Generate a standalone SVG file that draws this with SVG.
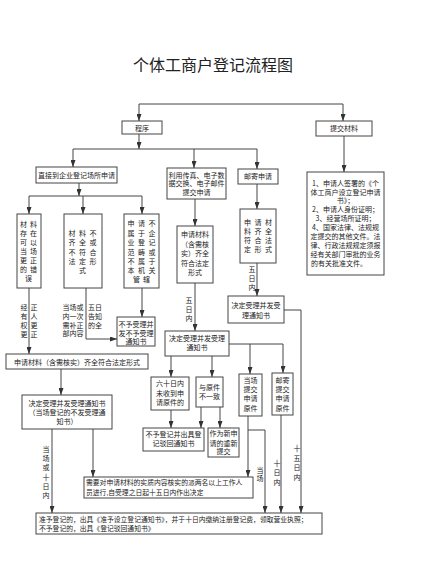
<svg xmlns="http://www.w3.org/2000/svg" width="421" height="569" viewBox="0 0 421 569">
<defs>
<marker id="ah" viewBox="0 0 7 5" refX="7" refY="2.5" markerWidth="7" markerHeight="5" markerUnits="userSpaceOnUse" orient="auto">
<path d="M0,0 L7,2.5 L0,5 z" fill="#333"/>
</marker>
<style>
text{font-family:"Noto Sans CJK SC","Noto Sans",sans-serif;fill:#222;font-size:7px;text-anchor:middle}
.t{font-size:16px}
.l{text-anchor:start}
rect{fill:#fff;stroke:#444;stroke-width:1}
.c path{fill:none;stroke:#444;stroke-width:1}
.a{marker-end:url(#ah)}
</style>
</defs>
<rect x="0" y="0" width="421" height="569" style="stroke:none"/>
<text class="t" x="213" y="71">个体工商户登记流程图</text>

<g class="c" id="connectors">
<path d="M139,104 H343"/>
<path class="a" d="M139,104 V121"/>
<path class="a" d="M343,104 V121"/>
<path class="a" d="M139,134 V149"/>
<path d="M73,149 H257"/>
<path class="a" d="M73,149 V167"/>
<path class="a" d="M194,149 V168"/>
<path class="a" d="M257,149 V169"/>
<path class="a" d="M344,136 V172"/>
<path class="a" d="M79,183 V196"/>
<path d="M29,196 H142"/>
<path class="a" d="M29,196 V214"/>
<path class="a" d="M83,196 V214"/>
<path class="a" d="M142,196 V214"/>
<path class="a" d="M29,288 V354"/>
<path class="a" d="M86,288 V339 H117"/>
<path class="a" d="M142,288 V317"/>
<path class="a" d="M61,369 V395"/>
<path class="a" d="M52,429 V513"/>
<path class="a" d="M93,429 V477"/>
<path class="a" d="M195,199 V226"/>
<path class="a" d="M195,283 V331"/>
<path class="a" d="M171,356 V377"/>
<path class="a" d="M212,356 V377"/>
<path d="M229,344 H283"/>
<path class="a" d="M250,344 V374"/>
<path class="a" d="M283,344 V373"/>
<path class="a" d="M171,410 V428"/>
<path class="a" d="M201,407 V428"/>
<path class="a" d="M220,407 V428"/>
<path class="a" d="M248,416 V477"/>
<path class="a" d="M248,430 H265 V513"/>
<path class="a" d="M281,415 V513"/>
<path class="a" d="M257,184 V209"/>
<path class="a" d="M257,263 V296"/>
<path class="a" d="M284,310 H301 V513"/>
</g>

<g id="n-chengxu"><rect x="122" y="121" width="40" height="13"/><text x="142" y="130.5">程序</text></g>
<g id="n-tijiao"><rect x="316" y="121" width="56" height="15"/><text x="344" y="131">提交材料</text></g>
<g id="n-zhijie"><rect x="36" y="167" width="81" height="16"/><text x="76.5" y="177.5">直接到企业登记场所申请</text></g>
<g id="n-liyong"><rect x="167" y="168" width="59" height="31"/>
<text x="196.5" y="177.5">利用传真、电子数</text><text x="196.5" y="186">据交换、电子邮件</text><text x="196.5" y="194.5">提交申请</text></g>
<g id="n-youji"><rect x="238" y="169" width="40" height="15"/><text x="258" y="179">邮寄申请</text></g>
<g id="n-cailiao"><rect x="307" y="172" width="77" height="103"/>
<text x="345.5" y="185.5">1、申请人签署的《个</text>
<text x="345.5" y="194.5">体工商户设立登记申请</text>
<text x="345.5" y="203">书》；</text>
<text x="345.5" y="212">2、申请人身份证明；</text>
<text x="345.5" y="221">3、经营场所证明；</text>
<text x="345.5" y="230">4、国家法律、法规规</text>
<text x="345.5" y="239">定提交的其他文件。法</text>
<text x="345.5" y="248">律、行政法规规定须报</text>
<text x="345.5" y="257">经有关部门审批的业务</text>
<text class="l" x="311" y="266">的有关批准文件。</text></g>

<g id="n-boxA"><rect x="17" y="214" width="24" height="74"/>
<text x="23.5 33.5" y="226.5">材料</text><text x="23.5 33.5" y="235.5">存在</text><text x="23.5 33.5" y="244.5">可以</text><text x="23.5 33.5" y="253.5">当场</text><text x="23.5 33.5" y="262.5">更正</text><text x="23.5 33.5" y="271.5">的错</text><text x="28.5" y="280.5">误</text></g>
<g id="n-boxB"><rect x="64" y="214" width="38" height="74"/>
<text x="72 82.5 93" y="235.5">材料不</text><text x="72 82.5 93" y="245">齐全或</text><text x="72 82.5 93" y="254.5">不符合</text><text x="72 82.5 93" y="264">法定形</text><text x="82.5" y="273">式</text></g>
<g id="n-boxC"><rect x="124" y="214" width="35" height="74"/>
<text x="131 141.5 152" y="226">申请不</text><text x="131 141.5 152" y="235.5">属于企</text><text x="131 141.5 152" y="245">业登记</text><text x="131 141.5 152" y="254.5">范畴或</text><text x="131 141.5 152" y="264">不属于</text><text x="131 141.5 152" y="273">本机关</text><text x="136.5 146.5" y="282">管辖</text></g>

<g id="lab-gengzheng"><text x="24 24 24 24" y="310 319 328 337">经有权更</text><text x="34 34 34 34" y="310 319 328 337">正人更正</text></g>
<g id="lab-gaozhi"><text x="73" y="310">当场或</text><text x="73" y="319">内一次</text><text x="73" y="327.5">需补正</text><text x="73" y="336">部内容</text>
<text x="95" y="310">五日</text><text x="95" y="319">告知</text><text x="95" y="327.5">的全</text></g>

<g id="n-buyushouli"><rect x="117" y="317" width="38" height="29"/>
<text x="136" y="327">不予受理并</text><text x="136" y="335.5">发不予受理</text><text x="136" y="344">通知书</text></g>

<g id="n-sq-wide"><rect x="6" y="354" width="142" height="15"/><text x="77" y="364.5">申请材料（含需核实）齐全符合法定形式</text></g>
<g id="n-jd-left"><rect x="22" y="395" width="90" height="34"/>
<text x="67" y="406">决定受理并发受理通知书</text><text x="67" y="415">（当场登记的不发受理通</text><text x="67" y="423.5">知书）</text></g>

<g id="n-sq-mid"><rect x="177" y="226" width="36" height="57"/>
<text x="195" y="237">申请材料</text><text x="195" y="246.5">（含需核</text><text x="195" y="256">实）齐全</text><text x="195" y="265.5">符合法定</text><text x="195" y="275">形式</text></g>
<g id="lab-wuri1"><text x="189 189 189" y="303 312 321">五日内</text></g>
<g id="n-jd-mid"><rect x="165" y="331" width="64" height="25"/>
<text x="197" y="340.5">决定受理并发受理</text><text x="197" y="350">通知书</text></g>

<g id="n-sq-mail"><rect x="240" y="209" width="36" height="54"/>
<text x="247.5 258 268.5" y="225">申请材</text><text x="247.5 258 268.5" y="234">料齐全</text><text x="247.5 258 268.5" y="243">符合法</text><text x="247.5 258 268.5" y="252">定形式</text></g>
<g id="lab-wuri2"><text x="252 252 252" y="272 281 290">五日内</text></g>
<g id="n-jd-mail"><rect x="228" y="296" width="56" height="27"/>
<text x="256" y="308">决定受理并发受</text><text x="256" y="317.5">理通知书</text></g>

<g id="n-liushi"><rect x="151" y="377" width="38" height="33"/>
<text x="170" y="386">六十日内</text><text x="170" y="395.5">未收到申</text><text x="170" y="405">请原件的</text></g>
<g id="n-yuyuanjian"><rect x="196" y="377" width="27" height="30"/>
<text x="209.5" y="390">与原件</text><text x="209.5" y="399">不一致</text></g>
<g id="n-dangchang"><rect x="239" y="374" width="23" height="42"/>
<text x="250.5" y="383">当场</text><text x="250.5" y="391.5">提交</text><text x="250.5" y="401">申请</text><text x="250.5" y="410.5">原件</text></g>
<g id="n-youjitijiao"><rect x="272" y="373" width="21" height="42"/>
<text x="282.5" y="383">邮寄</text><text x="282.5" y="391.5">提交</text><text x="282.5" y="401">申请</text><text x="282.5" y="410.5">原件</text></g>

<g id="n-buyudengji"><rect x="143" y="428" width="61" height="23"/>
<text x="173.5" y="437">不予登记并出具登</text><text x="173.5" y="446">记驳回通知书</text></g>
<g id="n-xinshenqing"><rect x="208" y="428" width="31" height="29"/>
<text x="223.5" y="436">作为新申</text><text x="223.5" y="445.5">请的重新</text><text x="223.5" y="454">提交</text></g>

<g id="lab-dc10"><text x="46 46 46 46 46 46" y="451.5 461 470 479.5 488.5 497.5">当场或十日内</text></g>
<g id="lab-dc"><text x="260 260" y="472.5 481">当场</text></g>
<g id="lab-10"><text x="277 277 277" y="466 475 484.5">十日内</text></g>
<g id="lab-15"><text x="297 297 297 297" y="451 460.5 470 479.5">十五日内</text></g>

<g id="n-hezhi"><rect x="84" y="477" width="169" height="21"/>
<text class="l" x="86" y="485" style="font-size:6.8px">需要对申请材料的实质内容核实的派两名以上工作人</text>
<text class="l" x="86" y="494.5" style="font-size:6.8px">员进行,自受理之日起十五日内作出决定</text></g>

<g id="n-final"><rect x="36" y="513" width="286" height="21"/>
<text class="l" x="39" y="521.5" style="font-size:6.8px">准予登记的，出具《准予设立登记通知书》，并于十日内缴纳注册登记费，领取营业执照；</text>
<text class="l" x="39" y="530.5" style="font-size:6.8px">不予登记的，出具《登记驳回通知书》</text></g>
</svg>
